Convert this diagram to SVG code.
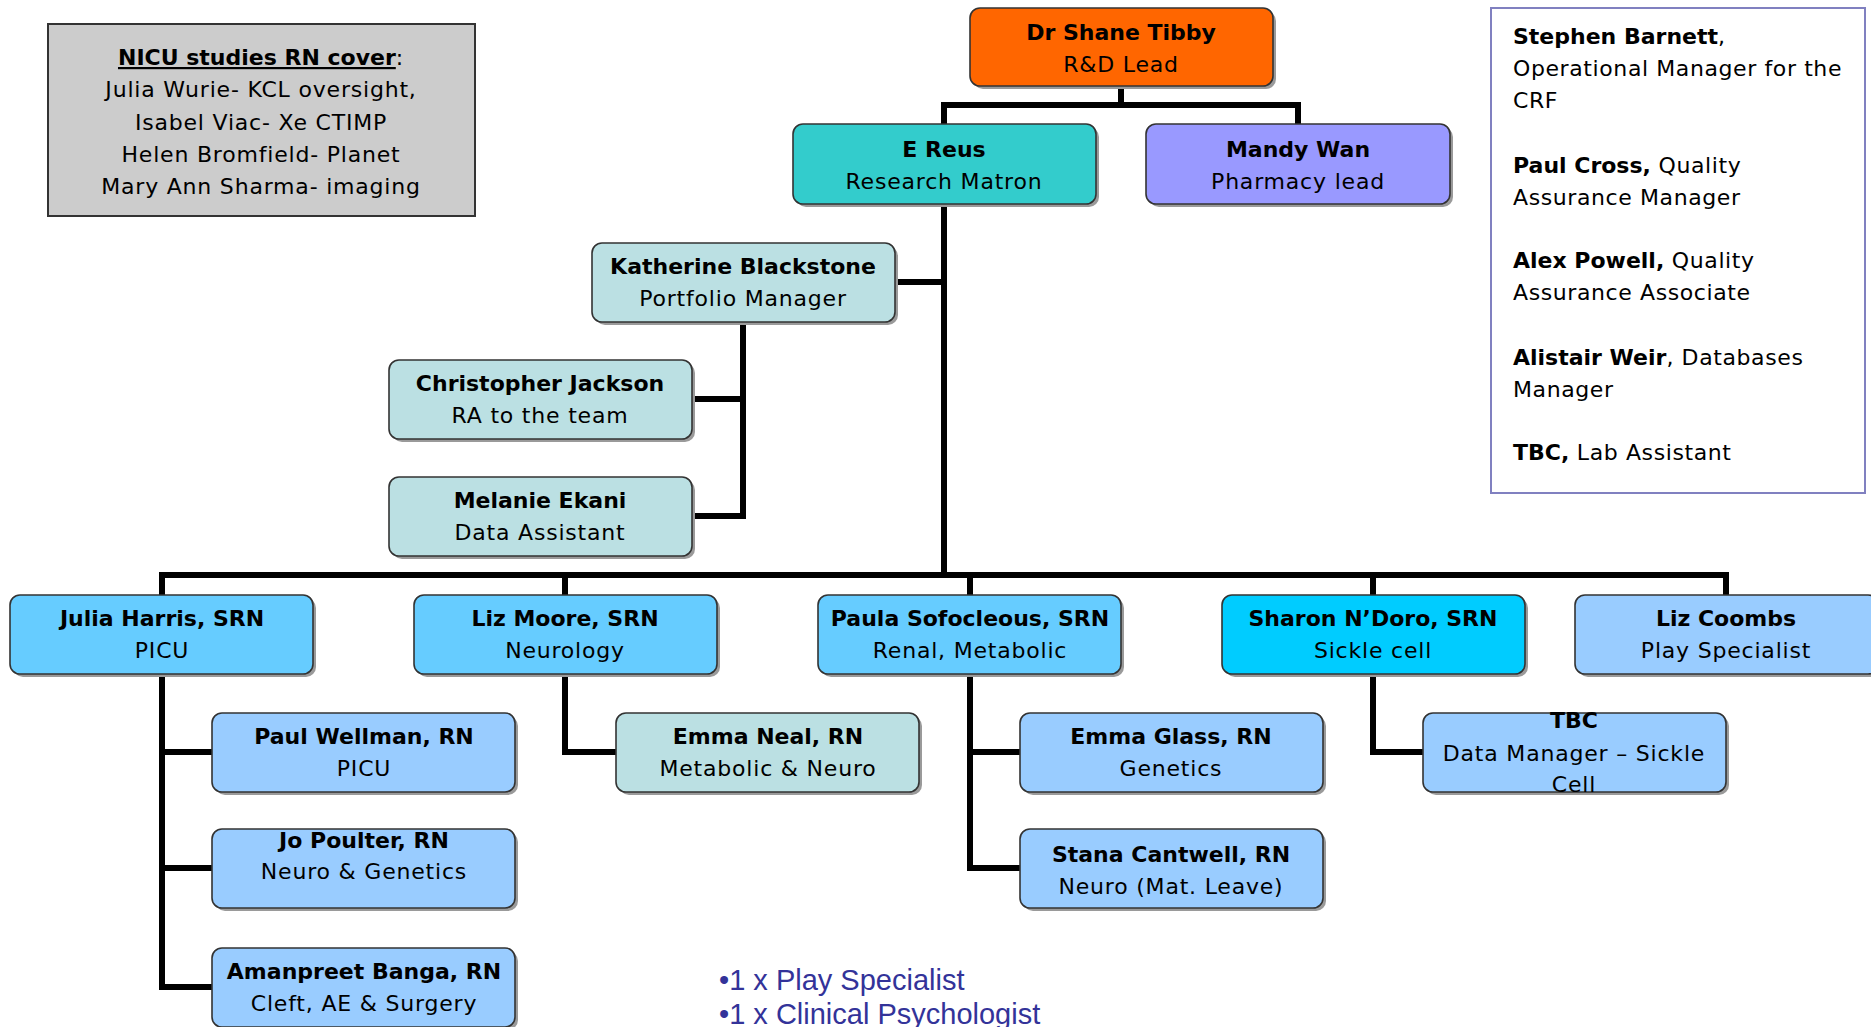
<svg xmlns="http://www.w3.org/2000/svg" width="1871" height="1027" viewBox="0 0 1871 1027">
<style>
.bx{stroke:#333;stroke-width:1.6}
.sh{fill:#9a9a9a}
.n{font-family:"DejaVu Sans",sans-serif;font-weight:bold;font-size:22px;text-anchor:middle;fill:#000}
.s{font-family:"DejaVu Sans",sans-serif;font-size:22px;letter-spacing:0.8px;text-anchor:middle;fill:#000}
.r{font-family:"DejaVu Sans",sans-serif;font-size:22px;letter-spacing:0.6px;fill:#000}
.b{font-weight:bold;letter-spacing:0}
.c{fill:none;stroke:#000;stroke-width:6;stroke-linejoin:miter;stroke-linecap:square}
.o{fill:#FF6600}.t{fill:#33CCCC}.p{fill:#9999FF}.l{fill:#BBE0E3}.m{fill:#66CCFF}.k{fill:#00CCFF}.v{fill:#99CCFF}
.bul{font-family:"Liberation Sans",Arial,sans-serif;font-size:29px;fill:#333399}
</style>
<rect width="1871" height="1027" fill="#fff"/>
<g id="connectors">
<path class="c" d="M1121,86 V105 M944,105 H1298 M944,105 V124 M1298,105 V124"/>
<path class="c" d="M944,204 V575 M895,282 H944"/>
<path class="c" d="M743,322 V516 M692,399 H743 M692,516 H743"/>
<path class="c" d="M162,575 H1726 M162,575 V595 M565,575 V595 M970,575 V595 M1373,575 V595 M1726,575 V595"/>
<path class="c" d="M162,674 V987 M162,752 H212 M162,868 H212 M162,987 H212"/>
<path class="c" d="M565,674 V752 H616"/>
<path class="c" d="M970,674 V868 M970,752 H1020 M970,868 H1020"/>
<path class="c" d="M1373,674 V752 H1423"/>
</g>
<g id="nicu">
<rect x="48" y="24" width="427" height="192" fill="#CCCCCC" stroke="#333" stroke-width="2"/>
<text x="261" y="65" class="s"><tspan class="b" text-decoration="underline">NICU studies RN cover</tspan>:</text>
<text x="261" y="97" class="s">Julia Wurie- KCL oversight,</text>
<text x="261" y="130" class="s">Isabel Viac- Xe CTIMP</text>
<text x="261" y="162" class="s">Helen Bromfield- Planet</text>
<text x="261" y="194" class="s">Mary Ann Sharma- imaging</text>
</g>
<g id="staff">
<rect x="1491" y="8" width="374" height="485" fill="#fff" stroke="#8080C0" stroke-width="2"/>
<text x="1513" y="44" class="r"><tspan class="b">Stephen Barnett</tspan>,</text>
<text x="1513" y="76" class="r">Operational Manager for the</text>
<text x="1513" y="108" class="r">CRF</text>
<text x="1513" y="173" class="r"><tspan class="b">Paul Cross,</tspan> Quality</text>
<text x="1513" y="205" class="r">Assurance Manager</text>
<text x="1513" y="268" class="r"><tspan class="b">Alex Powell,</tspan> Quality</text>
<text x="1513" y="300" class="r">Assurance Associate</text>
<text x="1513" y="365" class="r"><tspan class="b">Alistair Weir</tspan>, Databases</text>
<text x="1513" y="397" class="r">Manager</text>
<text x="1513" y="460" class="r"><tspan class="b">TBC,</tspan> Lab Assistant</text>
</g>
<g id="shane"><rect x="973" y="11" width="303" height="78" rx="10" class="sh"/><rect x="970" y="8" width="303" height="78" rx="10" class="bx o"/><text x="1121" y="40" class="n">Dr Shane Tibby</text><text x="1121" y="72" class="s">R&amp;D Lead</text></g>
<g id="ereus"><rect x="796" y="127" width="303" height="80" rx="10" class="sh"/><rect x="793" y="124" width="303" height="80" rx="10" class="bx t"/><text x="944" y="157" class="n">E Reus</text><text x="944" y="189" class="s">Research Matron</text></g>
<g id="mandy"><rect x="1149" y="127" width="304" height="80" rx="10" class="sh"/><rect x="1146" y="124" width="304" height="80" rx="10" class="bx p"/><text x="1298" y="157" class="n">Mandy Wan</text><text x="1298" y="189" class="s">Pharmacy lead</text></g>
<g id="katherine"><rect x="595" y="246" width="303" height="79" rx="10" class="sh"/><rect x="592" y="243" width="303" height="79" rx="10" class="bx l"/><text x="743" y="274" class="n">Katherine Blackstone</text><text x="743" y="306" class="s">Portfolio Manager</text></g>
<g id="christopher"><rect x="392" y="363" width="303" height="79" rx="10" class="sh"/><rect x="389" y="360" width="303" height="79" rx="10" class="bx l"/><text x="540" y="391" class="n">Christopher Jackson</text><text x="540" y="423" class="s">RA to the team</text></g>
<g id="melanie"><rect x="392" y="480" width="303" height="79" rx="10" class="sh"/><rect x="389" y="477" width="303" height="79" rx="10" class="bx l"/><text x="540" y="508" class="n">Melanie Ekani</text><text x="540" y="540" class="s">Data Assistant</text></g>
<g id="julia"><rect x="13" y="598" width="303" height="79" rx="10" class="sh"/><rect x="10" y="595" width="303" height="79" rx="10" class="bx m"/><text x="162" y="626" class="n">Julia Harris, SRN</text><text x="162" y="658" class="s">PICU</text></g>
<g id="lizmoore"><rect x="417" y="598" width="303" height="79" rx="10" class="sh"/><rect x="414" y="595" width="303" height="79" rx="10" class="bx m"/><text x="565" y="626" class="n">Liz Moore, SRN</text><text x="565" y="658" class="s">Neurology</text></g>
<g id="paula"><rect x="821" y="598" width="303" height="79" rx="10" class="sh"/><rect x="818" y="595" width="303" height="79" rx="10" class="bx m"/><text x="970" y="626" class="n">Paula Sofocleous, SRN</text><text x="970" y="658" class="s">Renal, Metabolic</text></g>
<g id="sharon"><rect x="1225" y="598" width="303" height="79" rx="10" class="sh"/><rect x="1222" y="595" width="303" height="79" rx="10" class="bx k"/><text x="1373" y="626" class="n">Sharon N’Doro, SRN</text><text x="1373" y="658" class="s">Sickle cell</text></g>
<g id="lizcoombs"><rect x="1578" y="598" width="303" height="79" rx="10" class="sh"/><rect x="1575" y="595" width="303" height="79" rx="10" class="bx v"/><text x="1726" y="626" class="n">Liz Coombs</text><text x="1726" y="658" class="s">Play Specialist</text></g>
<g id="paulwellman"><rect x="215" y="716" width="303" height="79" rx="10" class="sh"/><rect x="212" y="713" width="303" height="79" rx="10" class="bx v"/><text x="364" y="744" class="n">Paul Wellman, RN</text><text x="364" y="776" class="s">PICU</text></g>
<g id="jopoulter"><rect x="215" y="832" width="303" height="79" rx="10" class="sh"/><rect x="212" y="829" width="303" height="79" rx="10" class="bx v"/><text x="364" y="848" class="n">Jo Poulter, RN</text><text x="364" y="879" class="s">Neuro &amp; Genetics</text></g>
<g id="amanpreet"><rect x="215" y="951" width="303" height="79" rx="10" class="sh"/><rect x="212" y="948" width="303" height="79" rx="10" class="bx v"/><text x="364" y="979" class="n">Amanpreet Banga, RN</text><text x="364" y="1011" class="s">Cleft, AE &amp; Surgery</text></g>
<g id="emmaneal"><rect x="619" y="716" width="303" height="79" rx="10" class="sh"/><rect x="616" y="713" width="303" height="79" rx="10" class="bx l"/><text x="768" y="744" class="n">Emma Neal, RN</text><text x="768" y="776" class="s">Metabolic &amp; Neuro</text></g>
<g id="emmaglass"><rect x="1023" y="716" width="303" height="79" rx="10" class="sh"/><rect x="1020" y="713" width="303" height="79" rx="10" class="bx v"/><text x="1171" y="744" class="n">Emma Glass, RN</text><text x="1171" y="776" class="s">Genetics</text></g>
<g id="stana"><rect x="1023" y="832" width="303" height="79" rx="10" class="sh"/><rect x="1020" y="829" width="303" height="79" rx="10" class="bx v"/><text x="1171" y="862" class="n">Stana Cantwell, RN</text><text x="1171" y="894" class="s">Neuro (Mat. Leave)</text></g>
<g id="tbc"><rect x="1426" y="716" width="303" height="79" rx="10" class="sh"/><rect x="1423" y="713" width="303" height="79" rx="10" class="bx v"/><text x="1574" y="728" class="n">TBC</text><text x="1574" y="761" class="s">Data Manager – Sickle</text><text x="1574" y="792" class="s">Cell</text></g>
<g id="notes">
<text x="719" y="990" class="bul">•1 x Play Specialist</text>
<text x="719" y="1024" class="bul">•1 x Clinical Psychologist</text>
</g>
</svg>
